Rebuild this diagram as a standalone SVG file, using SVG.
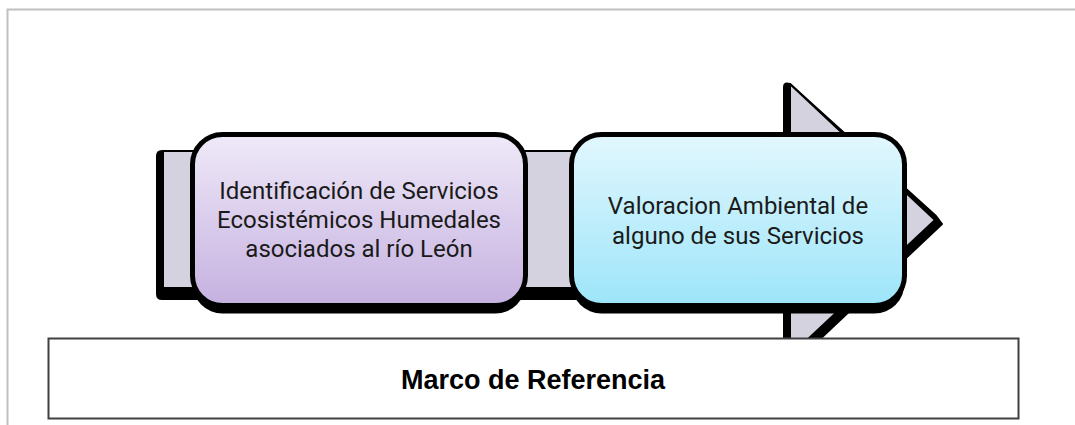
<svg xmlns="http://www.w3.org/2000/svg" width="1075" height="425" viewBox="0 0 1075 425">
<style>
  .page { stroke: #c0c0c0; stroke-width: 2; fill: none; }
  .shadow { fill: #000000; }
  .ashadow { fill: #000000; stroke: #000000; stroke-width: 2; stroke-linejoin: round; }
  .arrow { fill: #d5d2e0; stroke: #000000; stroke-width: 2; stroke-linejoin: round; }
  .box { stroke: #000000; stroke-width: 5; }
  .label { font-family: Roboto, "Liberation Sans", sans-serif; font-size: 24px; fill: #1a1a1a; text-anchor: middle; }
  .frame { fill: #ffffff; stroke: #404040; stroke-width: 2; }
  .title { font-family: "Liberation Sans", "DejaVu Sans", sans-serif; font-size: 27px; font-weight: bold; fill: #000000; text-anchor: middle; }
</style>
<defs>
  <linearGradient id="gPurple" x1="0" y1="0" x2="0" y2="1">
    <stop offset="0" stop-color="#efe9f8"/>
    <stop offset="1" stop-color="#c5b1e0"/>
  </linearGradient>
  <linearGradient id="gBlue" x1="0" y1="0" x2="0" y2="1">
    <stop offset="0" stop-color="#e2f7fd"/>
    <stop offset="1" stop-color="#9de5fa"/>
  </linearGradient>
</defs>
<rect width="1075" height="425" fill="#ffffff"/>
<path class="page" d="M7.5,425 V9.5 H1075"/>

<g id="connectors">
  <path class="ashadow" d="M162,151 H784 V87 Q784,82 790,84 L936,216 L942,224 L784,373 V299 H162 Q157,299 157,294 V156 Q157,151 162,151 Z"/>
  <path class="arrow" d="M163,151 H790 V84 L935,220 L790,356 V288 H163 Z"/>
</g>

<g id="node1">
  <rect class="shadow" x="192.5" y="142.5" width="333" height="171" rx="30" ry="30"/>
  <rect class="box" x="192.5" y="134.5" width="333" height="171" rx="30" ry="30" fill="url(#gPurple)"/>
  <text class="label" x="359" y="199">Identificación de Servicios</text>
  <text class="label" x="359" y="228">Ecosistémicos Humedales</text>
  <text class="label" x="359" y="257">asociados al río León</text>
</g>

<g id="node2">
  <rect class="shadow" x="571.5" y="142.5" width="333" height="171" rx="30" ry="30"/>
  <rect class="box" x="571.5" y="134.5" width="333" height="171" rx="30" ry="30" fill="url(#gBlue)"/>
  <text class="label" x="738" y="214">Valoracion Ambiental de</text>
  <text class="label" x="738" y="244">alguno de sus Servicios</text>
</g>

<g id="marco">
  <rect class="frame" x="48.5" y="338.5" width="970" height="80"/>
  <text class="title" x="533" y="389">Marco de Referencia</text>
</g>
</svg>
